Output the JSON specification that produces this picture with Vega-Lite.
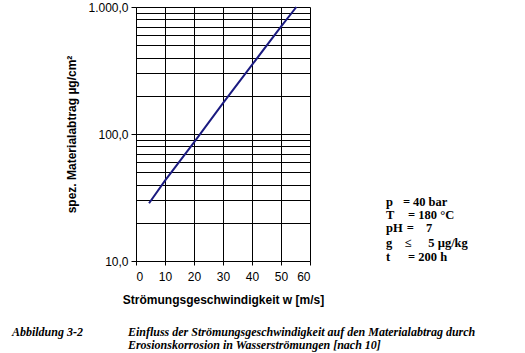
{
  "$schema": "https://vega.github.io/schema/vega-lite/v6.json",
  "width": 174,
  "height": 254,
  "autosize": {"type": "none"},
  "padding": {"left": 136, "top": 7, "right": 215, "bottom": 92},
  "background": "white",
  "config": {
    "view": {"stroke": null},
    "font": "Liberation Sans",
    "axisX": {
      "values": [0, 10, 20, 30, 40, 50, 60],
      "titleFont": "Liberation Sans", "titleFontSize": 12, "titleFontWeight": "bold", "titleColor": "black",
      "titlePadding": 12,
      "labelFont": "Liberation Sans", "labelFontSize": 12, "labelColor": "black", "labelPadding": 6,
      "tickSize": 4, "tickColor": "black", "domainColor": "black",
      "grid": true, "gridColor": "black", "gridOpacity": 1
    },
    "axisY": {
      "values": [10, 20, 30, 40, 50, 60, 70, 80, 90, 100, 200, 300, 400, 500, 600, 700, 800, 900, 1000],
      "labelExpr": "datum.value == 1000 ? '1.000,0' : datum.value == 100 ? '100,0' : datum.value == 10 ? '10,0' : ''",
      "titleFont": "Liberation Sans", "titleFontSize": 12, "titleFontWeight": "bold", "titleColor": "black",
      "titlePadding": 9,
      "labelFont": "Liberation Sans", "labelFontSize": 12, "labelColor": "black", "labelPadding": 3,
      "tickSize": {"condition": {"test": "datum.value == 10 || datum.value == 100 || datum.value == 1000", "value": 5}, "value": 0},
      "tickColor": "black", "domainColor": "black",
      "grid": true, "gridColor": "black", "gridOpacity": 1
    }
  },
  "layer": [
    {
      "data": {"values": [
        {"w": 4.5, "m": 28.5},
        {"w": 10, "m": 43},
        {"w": 20, "m": 86},
        {"w": 30, "m": 175},
        {"w": 40, "m": 350},
        {"w": 50, "m": 700},
        {"w": 55.3, "m": 1000}
      ]},
      "mark": {"type": "line", "color": "#1a1a80", "strokeWidth": 2},
      "encoding": {
        "x": {
          "field": "w", "type": "quantitative",
          "title": "Strömungsgeschwindigkeit w [m/s]",
          "scale": {"domain": [0, 60], "nice": false, "zero": false}
        },
        "y": {
          "field": "m", "type": "quantitative",
          "title": "spez. Materialabtrag µg/cm²",
          "scale": {"type": "log", "domain": [10, 1000], "nice": false}
        }
      }
    },
    {
      "data": {"values": [
        {"w": 86.2, "m": 28.97, "t": "p"},
        {"w": 92.1, "m": 28.97, "t": "="},
        {"w": 95.5, "m": 28.97, "t": "40 bar"},
        {"w": 86.2, "m": 22.9, "t": "T"},
        {"w": 93.8, "m": 22.9, "t": "= 180 °C"},
        {"w": 86.2, "m": 18.08, "t": "pH"},
        {"w": 93.4, "m": 18.08, "t": "="},
        {"w": 100.0, "m": 18.08, "t": "7"},
        {"w": 86.2, "m": 13.77, "t": "g"},
        {"w": 92.8, "m": 13.77, "t": "≤"},
        {"w": 100.8, "m": 13.77, "t": "5 µg/kg"},
        {"w": 86.2, "m": 10.7, "t": "t"},
        {"w": 93.8, "m": 10.7, "t": "= 200 h"}
      ]},
      "mark": {"type": "text", "font": "Liberation Serif", "fontSize": 12.5, "fontWeight": "bold", "align": "left", "baseline": "middle", "color": "black"},
      "encoding": {
        "x": {"field": "w", "type": "quantitative", "title": "Strömungsgeschwindigkeit w [m/s]"},
        "y": {"field": "m", "type": "quantitative", "title": "spez. Materialabtrag µg/cm²"},
        "text": {"field": "t"}
      }
    },
    {
      "data": {"values": [
        {"w": -42.8, "m": 2.75, "t": "Abbildung 3-2"},
        {"w": -2.8, "m": 2.75, "t": "Einfluss der Strömungsgeschwindigkeit auf den Materialabtrag durch"},
        {"w": -2.8, "m": 2.17, "t": "Erosionskorrosion in Wasserströmungen [nach 10]"}
      ]},
      "mark": {"type": "text", "font": "Liberation Serif", "fontSize": 12, "fontWeight": "bold", "fontStyle": "italic", "align": "left", "baseline": "middle", "color": "black"},
      "encoding": {
        "x": {"field": "w", "type": "quantitative", "title": "Strömungsgeschwindigkeit w [m/s]"},
        "y": {"field": "m", "type": "quantitative", "title": "spez. Materialabtrag µg/cm²"},
        "text": {"field": "t"}
      }
    }
  ]
}
